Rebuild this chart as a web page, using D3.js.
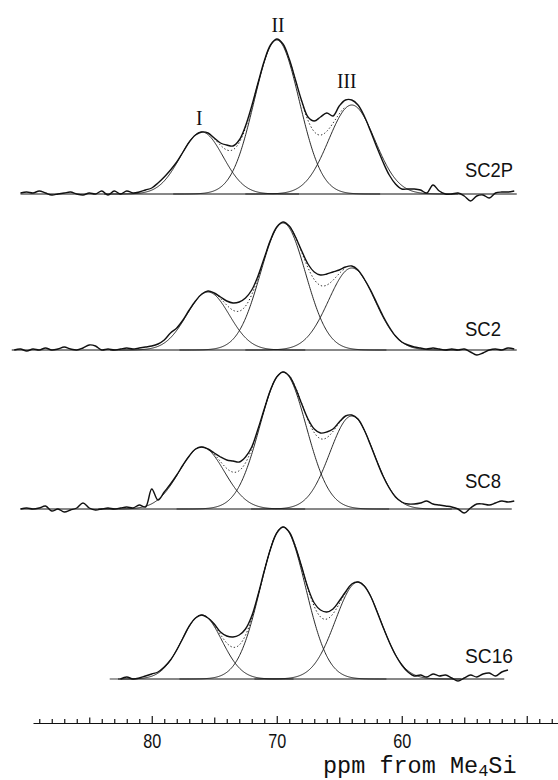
<!DOCTYPE html>
<html>
<head>
<meta charset="utf-8">
<title>13C CP/MAS spectra SC2P SC2 SC8 SC16</title>
<script src="https://cdn.jsdelivr.net/npm/d3@7"></script>
<style>
  body { margin: 0; background: #fff; }
  svg { display: block; }
  .obs { fill: none; stroke: #111; stroke-width: 1.4; stroke-linejoin: round; }
  .comp { fill: none; stroke: #111; stroke-width: 0.9; }
  .fitsum { fill: none; stroke: #111; stroke-width: 1; stroke-dasharray: 1.3 2.2; }
  .base { stroke: #111; stroke-width: 1; }
  .axis path, .axis line { stroke: #111; stroke-width: 1.2; }
</style>
</head>
<body>
<svg width="558" height="780"></svg>
<script>

// sampling of the observed traces, ppm (91 -> 50.5, every 0.5 ppm)
var ppm = d3.range(91, 50.4, -0.5);

var samples = ["SC2P", "SC2", "SC8", "SC16"];

// observed intensity (arbitrary units), one value per ppm sample, null = no trace
var obsSC2P = [null, 1, 2, 1, 3, 1, -1, 0, 1, 2, 0, -1, 1, 0, 3, -1, 3, 0, 3, 1, 2, 4,
  6, 11, 17, 24, 32, 42, 52, 59, 62, 61, 56, 51, 49, 48, 54, 68, 88, 111, 133, 149,
  155, 150, 135, 114, 93, 77, 73, 77, 81, 78, 88, 94, 94, 89, 78, 63, 47, 32, 19, 10,
  5, 5, 5, 4, 1, 9, 3, 0, 0, 1, -2, -7, -2, -1, -4, 1, 2, 2, 3, null];
var obsSC2 = [0, 1, -1, 1, 0, 2, 0, 1, 3, 1, 0, 2, 5, 4, 0, 1, 0, 1, 2, 1, 2, 3,
  4, 6, 10, 17, 22, 30, 40, 49, 56, 59, 57, 53, 49, 47, 48, 52, 60, 74, 92, 110,
  123, 128, 124, 113, 99, 86, 78, 75, 76, 78, 80, 83, 84, 80, 71, 60, 47, 34, 23, 14,
  8, 5, 3, 2, 1, 2, 1, 0, 1, 0, 1, -2, -5, -3, 0, 1, 0, 2, 1, null];
var obsSC8 = [null, 0, 1, 0, 1, 3, -2, 0, -3, -1, 1, 6, 1, -1, 0, 1, 0, 1, 2, 1, 4, 2,
  20, 9, 17, 25, 34, 44, 53, 60, 62, 60, 56, 52, 49, 48, 47, 52, 62, 80, 100, 119,
  132, 137, 133, 121, 105, 90, 80, 76, 77, 80, 87, 93, 94, 90, 79, 64, 48, 33, 21, 12,
  7, 5, 5, 6, 8, 5, 4, 3, 2, 0, -4, 1, 5, 5, 4, 6, 8, 7, 8, null];
var obsSC16 = [null, null, null, null, null, null, null, null, null, null, null, null,
  null, null, null, null, null, 0, 2, 0, 1, 3,
  5, 7, 12, 19, 29, 41, 53, 61, 64, 61, 55, 47, 43, 42, 44, 50, 63, 84, 108, 130,
  146, 152, 147, 132, 112, 91, 76, 69, 67, 70, 78, 87, 95, 97, 93, 83, 68, 52, 37, 24,
  14, 7, 3, 4, 2, 5, 3, 4, 1, -2, 1, 4, 2, 5, 6, 3, 7, 9, null, null];

// fitted peaks I, II, III: [centre ppm, height, sigma ppm]
var fitSC2P = [[76.0, 62, 1.7], [70.0, 154, 1.8], [64.0, 89, 1.85]];
var fitSC2  = [[75.5, 58, 1.7], [69.5, 127, 1.8], [64.0, 82, 1.85]];
var fitSC8  = [[76.0, 62, 1.8], [69.5, 137, 1.85], [64.0, 93, 1.75]];
var fitSC16 = [[76.0, 64, 1.6], [69.5, 152, 1.8], [63.5, 97, 1.8]];

// ppm extent of each drawn baseline
var baseFrom = [90.5, 91.2, 90.5, 82.7];
var baseTo   = [50.8, 50.8, 51.2, 51.8];

var peakNames = ["I", "II", "III"];
var peakLabelPpm = [76.2, 69.9, 64.4];

var majorTicks = [80, 70, 60];

// ---- layout ----
var svg = d3.select("svg");
var panelBase = [194, 350, 509, 679];
var axisY = 723;

var x = d3.scaleLinear().domain([89.5, 47.5]).range([33, 558]);

var obsAll = [obsSC2P, obsSC2, obsSC8, obsSC16];
var fitAll = [fitSC2P, fitSC2, fitSC8, fitSC16];

function gauss(p, pk) {
  var d = p - pk[0];
  return pk[1] * Math.exp(-d * d / (2 * pk[2] * pk[2]));
}

samples.forEach(function(name, i) {
  var y = d3.scaleLinear().domain([0, 160]).range([panelBase[i], panelBase[i] - 160]);
  var g = svg.append("g").attr("class", "panel");
  var fit = fitAll[i];

  // baseline
  g.append("line").attr("class", "base")
    .attr("x1", x(baseFrom[i])).attr("x2", x(baseTo[i]))
    .attr("y1", y(0)).attr("y2", y(0));

  var line = d3.line()
    .x(function(d) { return x(d[0]); })
    .y(function(d) { return y(d[1]); });

  // fitted components
  fit.forEach(function(pk) {
    var pts = d3.range(pk[0] + 4.6 * pk[2], pk[0] - 4.6 * pk[2], -0.05)
      .map(function(p) { return [p, gauss(p, pk)]; });
    g.append("path").attr("class", "comp").attr("d", line(pts));
  });

  // sum of fitted components (dotted), drawn between neighbouring peaks
  for (var k = 0; k < fit.length - 1; k++) {
    var pts = d3.range(fit[k][0] - 0.6, fit[k + 1][0] + 0.6, -0.05).map(function(p) {
      return [p, d3.sum(fit, function(pk) { return gauss(p, pk); })];
    });
    g.append("path").attr("class", "fitsum").attr("d", line(pts));
  }

  // observed trace
  var obs = ppm.map(function(p, j) { return [p, obsAll[i][j]]; });
  g.append("path").attr("class", "obs")
    .attr("d", d3.line()
      .defined(function(d) { return d[1] != null; })
      .x(function(d) { return x(d[0]); })
      .y(function(d) { return y(d[1]); })
      .curve(d3.curveCatmullRom.alpha(0.5))(obs));

  // sample name
  g.append("text")
    .attr("x", 465).attr("y", panelBase[i] - (i == 0 ? 17 : i == 1 ? 14 : i == 2 ? 21 : 16))
    .attr("font-family", "Liberation Sans, Arial, sans-serif")
    .attr("font-size", 20)
    .attr("textLength", name.length == 4 ? 48 : 36)
    .attr("lengthAdjust", "spacingAndGlyphs")
    .attr("fill", "#111")
    .text(name);
});

// peak labels above the top trace
var labelY = [125, 32, 88];
svg.append("g").selectAll("text")
  .data(peakNames)
  .enter().append("text")
    .attr("x", function(d, i) { return x(peakLabelPpm[i]); })
    .attr("y", function(d, i) { return labelY[i]; })
    .attr("text-anchor", "middle")
    .attr("font-family", "Liberation Serif, Times New Roman, serif")
    .attr("font-size", 22)
    .attr("textLength", function(d) { return d.length * 6.5; })
    .attr("lengthAdjust", "spacingAndGlyphs")
    .attr("fill", "#111")
    .text(function(d) { return d; });

// ppm axis: ticks every 1 ppm, pointing up
var axis = svg.append("g").attr("class", "axis")
  .attr("transform", "translate(0," + axisY + ")")
  .call(d3.axisTop(x).tickValues(d3.range(48, 90)).tickFormat("").tickSizeOuter(0));
axis.selectAll(".tick line")
  .attr("y2", function(d) { return d % 10 == 0 ? -7 : d % 5 == 0 ? -5.5 : -4; });

var labels = svg.append("g")
  .attr("transform", "translate(0," + axisY + ")")
  .call(d3.axisBottom(x).tickValues(majorTicks).tickSize(0).tickPadding(10));
labels.select(".domain").remove();
labels.selectAll("text")
  .attr("font-family", "Liberation Sans, Arial, sans-serif")
  .attr("font-size", 21)
  .attr("textLength", 18)
  .attr("lengthAdjust", "spacingAndGlyphs")
  .attr("fill", "#111");

var title = svg.append("text")
  .attr("x", 323).attr("y", 773)
  .attr("font-family", "Liberation Mono, DejaVu Sans Mono, monospace")
  .attr("font-size", 23.5)
  .attr("fill", "#111");
title.append("tspan").text("ppm from Me");
title.append("tspan").attr("dy", 3).attr("font-size", 17).text("4");
title.append("tspan").attr("dy", -3).text("Si");

</script>
</body>
</html>
